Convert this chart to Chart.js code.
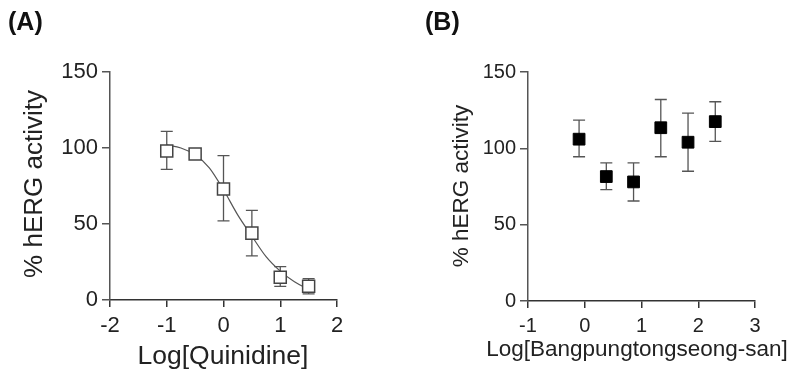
<!DOCTYPE html>
<html>
<head>
<meta charset="utf-8">
<script src="https://cdn.jsdelivr.net/npm/chart.js@4/dist/chart.umd.min.js"></script>
<style>
  html, body { margin: 0; padding: 0; background: #fff; }
  .panel { position: absolute; top: 0; width: 400px; height: 376px; }
  #panelA { left: 0; }
  #panelB { left: 400px; }
</style>
</head>
<body>
<div class="panel" id="panelA"><canvas id="chartA"></canvas></div>
<div class="panel" id="panelB"><canvas id="chartB"></canvas></div>
<script>
// Quinidine: mean, SEM bounds and fitted curve
const quinX = [-1, -0.5, 0, 0.5, 1, 1.5];
const quinY = [98, 96, 73, 44, 15, 9];
const quinErrLo = [86, 96, 52, 29, 9, 4];
const quinErrHi = [111, 96, 95, 59, 22, 14];
const fitX = [-1, -0.75, -0.5, -0.25, 0, 0.25, 0.5, 0.75, 1, 1.25, 1.5];
const fitY = [102, 100, 95.5, 87, 72.5, 56, 42, 28.5, 19, 12, 7];

// Bangpungtongseong-san
const bpsX = [-0.1, 0.38, 0.86, 1.34, 1.82, 2.3];
const bpsY = [106, 81.5, 78, 113.5, 104, 117.5];
const bpsErrLo = [94.5, 73, 65.5, 94.5, 85, 104.5];
const bpsErrHi = [118.5, 90.5, 90.5, 132, 123, 130.5];

const yTicks = [0, 50, 100, 150];
const FONT = '"Liberation Sans", Arial, sans-serif';

function toPoints(xs, ys) {
    return xs.map((x, i) => ({ x: x, y: ys[i] }));
}

// Vertical error bars with caps, drawn under the markers
const errorBarPlugin = {
    id: 'errorBars',
    beforeDatasetsDraw(chart, args, opts) {
        const { ctx, scales } = chart;
        ctx.save();
        ctx.strokeStyle = opts.color;
        ctx.lineWidth = 1.3;
        opts.x.forEach((x, i) => {
            const px = scales.x.getPixelForValue(x);
            const top = scales.y.getPixelForValue(opts.hi[i]);
            const bot = scales.y.getPixelForValue(opts.lo[i]);
            ctx.beginPath();
            ctx.moveTo(px, top); ctx.lineTo(px, bot);
            ctx.moveTo(px - opts.cap, top); ctx.lineTo(px + opts.cap, top);
            ctx.moveTo(px - opts.cap, bot); ctx.lineTo(px + opts.cap, bot);
            ctx.stroke();
        });
        ctx.restore();
    }
};

// Panel letter and axis titles
const labelsPlugin = {
    id: 'panelLabels',
    afterDraw(chart, args, opts) {
        const ctx = chart.ctx;
        ctx.save();
        ctx.fillStyle = '#111';
        ctx.textBaseline = 'middle';
        ctx.textAlign = 'left';
        ctx.font = 'bold 25px ' + FONT;
        ctx.fillText(opts.letter, opts.letterX, 23);

        ctx.fillStyle = '#222';
        ctx.textAlign = 'center';
        ctx.font = opts.xTitleSize + 'px ' + FONT;
        ctx.fillText(opts.xTitle, opts.xTitleX, opts.xTitleY);

        ctx.translate(opts.yTitleX, opts.yTitleY);
        ctx.rotate(-Math.PI / 2);
        ctx.font = opts.yTitleSize + 'px ' + FONT;
        ctx.fillText('% hERG activity', 0, 0);
        ctx.restore();
    }
};

function makeOptions(cfg) {
    return {
        responsive: true,
        maintainAspectRatio: false,
        animation: false,
        layout: { padding: { top: 72, right: cfg.padRight, left: 0, bottom: 0 } },
        scales: {
            x: {
                type: 'linear',
                min: cfg.xMin,
                max: cfg.xMax,
                afterFit: s => { s.height = cfg.xHeight; },
                afterBuildTicks: s => { s.ticks = cfg.xTicks.map(v => ({ value: v })); },
                border: { display: true, color: '#333', width: 1.5 },
                grid: { drawOnChartArea: false, drawTicks: true, tickLength: 7, color: '#333', lineWidth: 1.5 },
                ticks: { color: '#222', padding: 6, font: { family: FONT, size: cfg.tickSize }, maxRotation: 0 }
            },
            y: {
                min: 0,
                max: 150,
                afterFit: s => { s.width = cfg.yWidth; },
                afterBuildTicks: s => { s.ticks = yTicks.map(v => ({ value: v })); },
                border: { display: true, color: '#555', width: 1.5 },
                grid: { drawOnChartArea: false, drawTicks: true, tickLength: 8, color: '#555', lineWidth: 1.5 },
                ticks: { color: '#222', padding: 4, font: { family: FONT, size: cfg.tickSize } }
            }
        },
        plugins: {
            legend: { display: false },
            tooltip: { enabled: false },
            errorBars: { x: cfg.ex, lo: cfg.lo, hi: cfg.hi, cap: 6, color: '#555' },
            panelLabels: cfg.labels
        }
    };
}

new Chart(document.getElementById('chartA'), {
    type: 'scatter',
    data: {
        datasets: [{
            data: toPoints(quinX, quinY),
            pointStyle: 'rect',
            pointRadius: 8.5,
            backgroundColor: '#fff',
            borderColor: '#444',
            borderWidth: 1.5,
            order: 0
        }, {
            type: 'line',
            data: toPoints(fitX, fitY),
            showLine: true,
            pointRadius: 0,
            borderColor: '#555',
            borderWidth: 1.2,
            cubicInterpolationMode: 'monotone',
            fill: false,
            order: 1
        }]
    },
    options: makeOptions({
        xMin: -2, xMax: 2, xTicks: [-2, -1, 0, 1, 2],
        padRight: 63, yWidth: 110, xHeight: 76, tickSize: 22,
        ex: quinX, lo: quinErrLo, hi: quinErrHi,
        labels: {
            letter: '(A)', letterX: 8,
            xTitle: 'Log[Quinidine]', xTitleX: 223, xTitleY: 357, xTitleSize: 26.5,
            yTitle: '% hERG activity', yTitleX: 35, yTitleY: 184, yTitleSize: 26
        }
    }),
    plugins: [errorBarPlugin, labelsPlugin]
});

new Chart(document.getElementById('chartB'), {
    type: 'scatter',
    data: {
        datasets: [{
            data: toPoints(bpsX, bpsY),
            pointStyle: 'rect',
            pointRadius: 8.3,
            backgroundColor: '#000',
            borderColor: '#000',
            borderWidth: 1
        }]
    },
    options: makeOptions({
        xMin: -1, xMax: 3, xTicks: [-1, 0, 1, 2, 3],
        padRight: 45, yWidth: 128, xHeight: 75, tickSize: 20,
        ex: bpsX, lo: bpsErrLo, hi: bpsErrHi,
        labels: {
            letter: '(B)', letterX: 25,
            xTitle: 'Log[Bangpungtongseong-san]', xTitleX: 237, xTitleY: 350, xTitleSize: 22.5,
            yTitle: '% hERG activity', yTitleX: 62, yTitleY: 186, yTitleSize: 22.5
        }
    }),
    plugins: [errorBarPlugin, labelsPlugin]
});
</script>
</body>
</html>
